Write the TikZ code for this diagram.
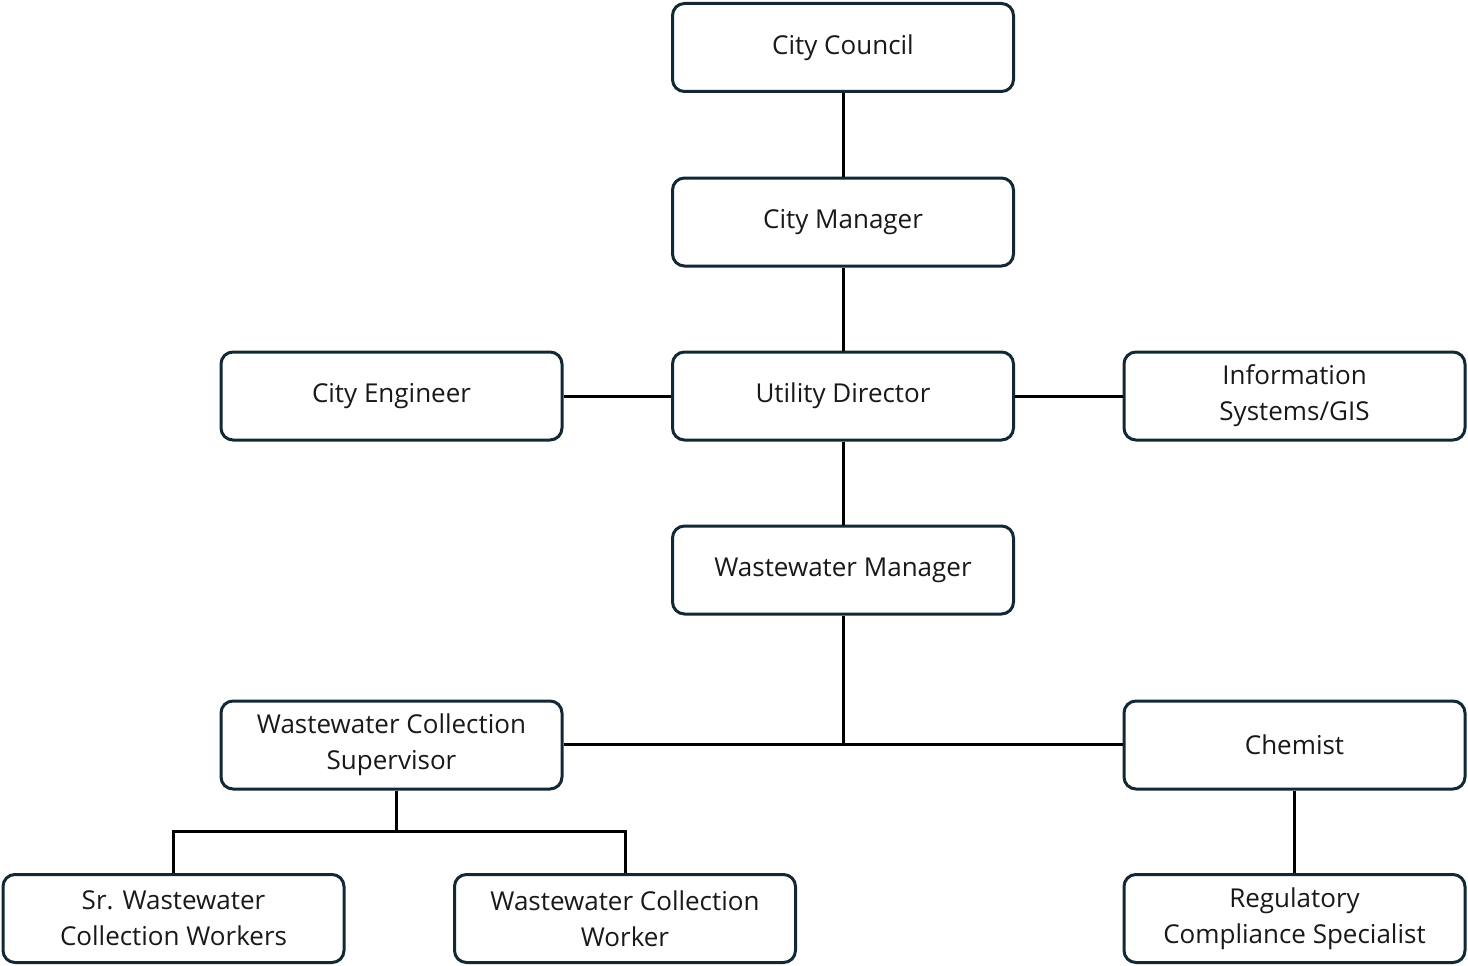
\documentclass[tikz,border=0pt]{standalone}
\usepackage{fontspec}
\setmainfont{Open Sans}
\definecolor{boxline}{RGB}{18,40,52}
\begin{document}
\begin{tikzpicture}[x=1pt,y=-1pt,
  box/.style={draw=boxline,line width=3pt,rounded corners=12pt,fill=white,
    minimum width=341pt,minimum height=88pt,align=center,inner sep=0pt,
    font=\fontsize{26}{36}\selectfont,text=black!90},
  conn/.style={draw=black,line width=3pt}]
\useasboundingbox (0,0) rectangle (1468,966);
\node[box] (cc) at (843,47.5) {City Council};
\node[box] (cm) at (843,222) {City Manager};
\node[box] (ud) at (843,396) {Utility Director};
\node[box] (ce) at (391.5,396) {City Engineer};
\node[box] (is) at (1294.5,396) {Information\\Systems/GIS};
\node[box] (wm) at (843,570) {Wastewater Manager};
\node[box] (ws) at (391.5,745) {Wastewater Collection\\Supervisor};
\node[box] (ch) at (1294.5,745) {Chemist};
\node[box] (sr) at (173.5,918.5) {Sr. Wastewater\\Collection Workers};
\node[box] (wc) at (625,918.5) {Wastewater Collection\\Worker};
\node[box] (rc) at (1294.5,918.5) {Regulatory\\Compliance Specialist};
\coordinate (j1) at (843,744);
\coordinate (j2) at (396,831);
\draw[conn] (cc.south) -- (cm.north);
\draw[conn] (cm.south) -- (ud.north);
\draw[conn] (ud.south) -- (wm.north);
\draw[conn] (ce.east) -- (ud.west);
\draw[conn] (ud.east) -- (is.west);
\draw[conn] (wm.south) -- (j1);
\draw[conn] (ws.east |- j1) -- (ch.west |- j1);
\draw[conn] (ws.south -| j2) -- (j2);
\draw[conn] (sr.north) |- (j2) -| (wc.north);
\draw[conn] (ch.south) -- (rc.north);
\end{tikzpicture}
\end{document}
